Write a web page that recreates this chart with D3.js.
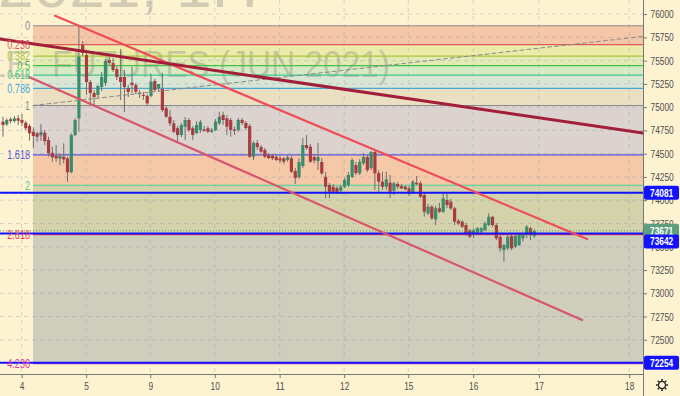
<!DOCTYPE html>
<html><head><meta charset="utf-8">
<script src="https://cdn.jsdelivr.net/npm/d3@7"></script>
<style>html,body{margin:0;padding:0;background:#fdf3d1;}svg{display:block;}</style>
</head><body><svg id="c" width="680" height="396"></svg>
<script>
// ---------- data ----------
const opens=[74844,74816,74870,74851,74880,74862,74833,74797,74736,74719,74697,74725,74647,74510,74478,74446,74467,74450,74300,74701,74880,75668,75561,75270,75152,75131,75217,75260,75507,75475,75410,75324,75324,75206,75263,75238,75155,75131,75120,75120,75281,75203,75195,74988,74897,74826,74773,74701,74790,74862,74773,74722,74754,74762,74773,74736,74754,74826,74916,74880,74862,74760,74754,74862,74830,74797,74467,74615,74572,74540,74486,74478,74467,74450,74450,74432,74450,74314,74249,74367,74593,74575,74464,74421,74411,74252,74163,74145,74131,74102,74145,74163,74252,74378,74289,74396,74464,74346,74518,74292,74199,74145,74188,74102,74174,74152,74145,74128,74074,74188,74182,74056,73859,73930,73794,73913,73876,74002,73984,73913,73779,73769,73733,73672,73626,73650,73661,73679,73733,73822,73733,73607,73464,73483,73615,73500,73518,73590,73626,73698,73615];
const highs=[74897,74880,74891,74905,74916,74926,74854,74819,74783,74736,74819,74754,74682,74575,74593,74504,74611,74467,74719,74880,75883,75711,75582,75292,75184,75238,75378,75518,75539,75528,75442,75625,75399,75238,75432,75260,75184,75163,75141,75356,75303,75249,75367,75023,74969,74862,74797,74830,74894,74883,74797,74851,74862,74797,74797,74776,74873,74951,74951,74916,74883,74790,74883,74883,74851,74819,74636,74647,74593,74561,74507,74497,74486,74475,74464,74486,74475,74346,74453,74668,74701,74604,74486,74615,74453,74303,74185,74174,74152,74163,74238,74303,74453,74411,74443,74507,74486,74529,74540,74324,74306,74306,74271,74199,74196,74174,74163,74152,74217,74260,74206,74077,73959,73948,73937,73970,74074,74074,74013,73930,73798,73787,73755,73690,73698,73712,73712,73769,73859,73830,73755,73626,73529,73626,73636,73636,73647,73644,73733,73715,73690];
const lows=[74682,74797,74826,74833,74808,74797,74754,74639,74558,74629,74639,74593,74467,74414,74414,74378,74396,74199,74289,74690,74736,75550,75131,75045,75002,75098,75174,75227,75442,75378,75292,75077,74948,75109,75152,75141,75098,75077,75023,75109,75174,75163,74948,74883,74797,74722,74629,74679,74647,74733,74647,74711,74722,74733,74722,74722,74744,74808,74808,74701,74682,74701,74733,74808,74754,74453,74432,74540,74507,74453,74443,74432,74421,74400,74389,74411,74292,74174,74228,74346,74540,74400,74396,74324,74271,74023,74023,74077,74066,74077,74131,74142,74238,74271,74271,74378,74303,74324,74110,74091,74110,74110,74023,74056,74120,74120,74110,74045,74066,74163,74023,73822,73841,73787,73733,73862,73862,73916,73894,73733,73733,73701,73615,73593,73590,73626,73647,73669,73722,73712,73572,73446,73339,73464,73464,73486,73507,73554,73593,73572,73593];
const closes=[74808,74862,74851,74880,74854,74833,74773,74719,74690,74682,74733,74636,74504,74461,74450,74475,74439,74300,74701,74862,75542,75582,75270,75152,75109,75227,75324,75496,75475,75399,75324,75270,75217,75163,75238,75166,75141,75120,75041,75274,75184,75249,74969,74897,74826,74736,74701,74808,74862,74754,74701,74808,74840,74747,74736,74754,74844,74897,74862,74790,74754,74747,74862,74830,74776,74467,74615,74572,74521,74467,74453,74450,74432,74427,74414,74461,74306,74238,74411,74593,74561,74414,74427,74464,74289,74145,74091,74091,74091,74145,74217,74271,74432,74292,74414,74467,74324,74518,74289,74199,74145,74225,74091,74182,74145,74128,74117,74074,74199,74171,74037,73876,73930,73805,73913,73876,74020,73948,73913,73769,73751,73715,73644,73607,73679,73698,73698,73751,73822,73733,73590,73483,73518,73607,73483,73615,73626,73626,73715,73626,73671];

const yTicks=[72500,72750,73000,73250,73500,73750,74000,74250,74500,74750,75000,75250,75500,75750,76000];
const dayLabels=["4","5","9","10","11","12","15","16","17","18"];
const dayTickIdx=[4.9,21.9,38.8,55.8,72.9,89.9,106.8,123.9,141.2,165.0];

const fibRatios=["0","0.236","0.382","0.5","0.618","0.786","1","1.618","2","2.618","4.236"];
const fibPrices=[75875,75673,75548,75447,75345,75201,75018,74488,74161,73631,72245];
const fibStartIdx=7.9;

const levelPrices=[74081,73642,72254];
const lastPrice=73671;

// trend lines: [startIndex, startPrice, endIndex, endPrice]
const maroonLine=[-0.8,75733,168.6,74722];
const upperChannel=[13.7,75983,153.9,73583];
const lowerChannel=[6.85,75324,152.6,72712];
const dashedLine=[7.9,75018,168.6,75760];

// ---------- styles ----------
const plotR=643, plotB=374;
const bandColors=["#f5c7a7","#ecebaa","#e1ebb3","#d6eac4","#d8e6d3","#ebdfc2","#ddd3ce","#f5c8a8","#d4d2aa","#cfcdbc"];
const fibLineColors=["#8c8c8c","#e05a5a","#a8c63a","#46c046","#3ec88a","#4aa8d8","#8c8c8c","#5555e0","#44d09c","#f0404e","#e040a8"];
const upColor="#3a8c6d", downColor="#a83c40", wickColor="#6e6e6e";
const font="'Liberation Sans', Arial, sans-serif";
const wm="rgba(105,105,105,0.28)";
// condensed label width: digits ~4.65px, dot ~2.4px
const labelLen=(s,k)=>(s.replace(/[^0-9]/g,"").length*4.65+(s.length-s.replace(/[^0-9]/g,"").length)*2.4)*(k||1);

const svg=d3.select("#c");
const x=d3.scaleLinear().domain([0,140]).range([3,534.3]);
const y=d3.scaleLinear().domain([76000,72500]).range([14.1,339.8]);

svg.append("rect").attr("width",680).attr("height",396).attr("fill","#fdf3d1");
svg.append("defs").append("clipPath").attr("id","plot").append("rect").attr("width",plotR).attr("height",plotB);
const g=svg.append("g").attr("clip-path","url(#plot)");

// fib bands
const fx0=x(fibStartIdx);
g.selectAll("rect.band").data(d3.range(fibPrices.length-1)).join("rect")
 .attr("x",fx0).attr("width",plotR-fx0)
 .attr("y",i=>y(fibPrices[i])).attr("height",i=>y(fibPrices[i+1])-y(fibPrices[i]))
 .attr("fill",i=>bandColors[i]);

// watermark
g.append("text").attr("x",-2).attr("y",7).attr("textLength",260).attr("lengthAdjust","spacingAndGlyphs")
 .attr("font-family",font).attr("font-size",60).attr("fill",wm).text("2021, 1H");
g.append("text").attr("x",30).attr("y",77).attr("text-anchor","end")
 .attr("font-family",font).attr("font-size",36).attr("fill",wm).text("U.S. DOLLAR - RUSSIAN RUBLE");
g.append("text").attr("x",52).attr("y",77).attr("textLength",338).attr("lengthAdjust","spacingAndGlyphs")
 .attr("font-family",font).attr("font-size",36).attr("fill",wm).text("FUTURES (JUN 2021)");

// grid
g.selectAll("line.hg").data(yTicks).join("line")
 .attr("x1",0).attr("x2",plotR).attr("y1",d=>y(d)).attr("y2",d=>y(d))
 .attr("stroke","rgba(140,150,185,0.35)").attr("stroke-dasharray","4,4");
g.selectAll("line.vg").data(dayTickIdx).join("line")
 .attr("x1",d=>x(d)).attr("x2",d=>x(d)).attr("y1",0).attr("y2",plotB)
 .attr("stroke","rgba(140,150,185,0.35)").attr("stroke-dasharray","4,4");

// fib lines
g.selectAll("line.fib").data(fibPrices).join("line")
 .attr("x1",fx0).attr("x2",plotR).attr("y1",d=>y(d)).attr("y2",d=>y(d))
 .attr("stroke",(d,i)=>fibLineColors[i]).attr("stroke-width",1.2);

// candles
const idx=d3.range(opens.length);
g.selectAll("line.wick").data(idx).join("line")
 .attr("x1",i=>x(i)).attr("x2",i=>x(i)).attr("y1",i=>y(highs[i])).attr("y2",i=>y(lows[i]))
 .attr("stroke",wickColor).attr("stroke-width",1);
g.selectAll("rect.body").data(idx).join("rect")
 .attr("x",i=>x(i)-1.6).attr("width",3.2)
 .attr("y",i=>y(Math.max(opens[i],closes[i])))
 .attr("height",i=>Math.max(1,Math.abs(y(opens[i])-y(closes[i]))))
 .attr("fill",i=>closes[i]>=opens[i]?upColor:downColor);

// horizontal levels
g.append("line").attr("x1",0).attr("x2",plotR).attr("y1",y(lastPrice)).attr("y2",y(lastPrice))
 .attr("stroke","#5f9c7c").attr("stroke-width",1).attr("stroke-dasharray","1,2");
g.selectAll("line.lvl").data(levelPrices).join("line")
 .attr("x1",0).attr("x2",plotR).attr("y1",d=>y(d)).attr("y2",d=>y(d))
 .attr("stroke","#1212ff").attr("stroke-width",2);

// trend lines
function tl(a,color,w,dash){
  g.append("line").attr("x1",x(a[0])).attr("y1",y(a[1])).attr("x2",x(a[2])).attr("y2",y(a[3]))
   .attr("stroke",color).attr("stroke-width",w).attr("stroke-dasharray",dash||null).attr("stroke-linecap","round");
}
tl(dashedLine,"#8a8a8a",1,"4,3");
tl(lowerChannel,"#d8566c",2.2);
tl(upperChannel,"#f04c58",2.2);
tl(maroonLine,"#a21f3c",3);

// fib labels
g.selectAll("text.fl").data(fibPrices).join("text")
 .attr("x",30).attr("y",d=>y(d)).attr("dy","0.36em").attr("text-anchor","end")
 .attr("font-family",font).attr("font-size",12).attr("fill",(d,i)=>fibLineColors[i])
 .attr("textLength",(d,i)=>labelLen(fibRatios[i],1.08)).attr("lengthAdjust","spacingAndGlyphs")
 .text((d,i)=>fibRatios[i]);

// axes
const ya=svg.append("g").attr("transform",`translate(${plotR},0)`)
 .call(d3.axisRight(y).tickValues(yTicks).tickSize(4).tickPadding(3.5).tickFormat(d3.format("d")));
ya.select(".domain").remove();
ya.selectAll("line").attr("stroke","#777");
ya.selectAll("text").attr("font-family",font).attr("font-size",11).attr("fill","#4f4f4f")
 .attr("textLength",function(){return labelLen(this.textContent);}).attr("lengthAdjust","spacingAndGlyphs");

const xa=svg.append("g").attr("transform",`translate(0,${plotB})`)
 .call(d3.axisBottom(x).tickValues(dayTickIdx).tickSize(4).tickPadding(4).tickFormat((d,i)=>dayLabels[i]));
xa.select(".domain").remove();
xa.selectAll("line").attr("stroke","#777");
xa.selectAll("text").attr("font-family",font).attr("font-size",11).attr("fill","#4f4f4f")
 .attr("textLength",function(){return labelLen(this.textContent);}).attr("lengthAdjust","spacingAndGlyphs");

svg.append("line").attr("x1",0).attr("x2",plotR).attr("y1",plotB+0.5).attr("y2",plotB+0.5).attr("stroke","#777");
svg.append("line").attr("x1",plotR+0.5).attr("x2",plotR+0.5).attr("y1",0).attr("y2",396).attr("stroke","#777");

// price boxes
const boxes=[
 {p:levelPrices[0],c:"#1212ff",off:0},
 {p:lastPrice,c:"#5c9e7e",off:0},
 {p:levelPrices[1],c:"#1212ff",off:8},
 {p:levelPrices[2],c:"#1212ff",off:0}
];
boxes.forEach(b=>{
  const cy=y(b.p)+b.off;
  const s=d3.format("d")(b.p);
  svg.append("rect").attr("x",plotR+1).attr("y",cy-7).attr("width",35).attr("height",14).attr("rx",2).attr("fill",b.c);
  svg.append("text").attr("x",plotR+7).attr("y",cy).attr("dy","0.36em")
   .attr("font-family",font).attr("font-size",11).attr("font-weight","bold").attr("fill","#fff")
   .attr("textLength",labelLen(s)).attr("lengthAdjust","spacingAndGlyphs").text(s);
});

// gear icon
const gear=svg.append("g").attr("transform","translate(662,385)").attr("stroke","#222").attr("fill","none");
gear.append("circle").attr("r",3.6).attr("stroke-width",1.3);
d3.range(8).forEach(k=>{
  const a=k*Math.PI/4;
  gear.append("line").attr("x1",Math.cos(a)*4.2).attr("y1",Math.sin(a)*4.2)
   .attr("x2",Math.cos(a)*6).attr("y2",Math.sin(a)*6).attr("stroke-width",1.6);
});
</script></body></html>
